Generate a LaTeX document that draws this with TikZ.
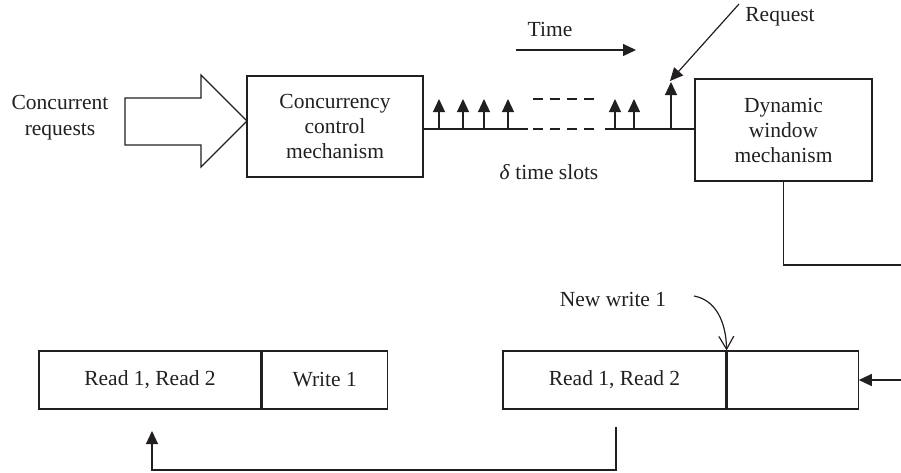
\documentclass[tikz,border=0pt]{standalone}
\usepackage{fontspec}
\setmainfont{Liberation Serif}
\usetikzlibrary{arrows.meta,calc}
\definecolor{ink}{HTML}{231F20}
\tikzset{
  base/.style={line width=1.2pt, draw=ink},
  box/.style={base, rectangle, inner sep=0pt, align=center, text=ink,
              font=\fontsize{21.5}{25}\selectfont},
  lbl/.style={text=ink, align=center, inner sep=0pt,
              font=\fontsize{21.5}{26}\selectfont},
  tip/.style={base, -{Triangle[length=13pt,width=12pt]}},
  opentip/.style={base, -{Straight Barb[length=13pt,width=15pt]}},
  dashline/.style={base, dash pattern=on 10pt off 7pt},
}
\begin{document}
\begin{tikzpicture}[x=1pt,y=-1pt]
  \useasboundingbox (0,0) rectangle (901,472);

  % upper row: input, concurrency control, dynamic window
  \node[lbl] (creq) at (60,118) {Concurrent\\requests};
  \node[box, minimum width=176pt, minimum height=101pt] (ccm) at (335,126.5)
       {Concurrency\\control\\mechanism};
  \node[box, minimum width=177pt, minimum height=102pt] (dwm) at (783.5,130)
       {Dynamic\\window\\mechanism};

  % block arrow feeding the concurrency control box
  \draw[base, line join=miter]
    (125,98) -- (201,98) -- (201,75) -- (247,121) -- (201,167)
    -- (201,145) -- (125,145) -- cycle;

  % time axis with slot boundaries
  \coordinate (tl1) at (528,129);
  \coordinate (tl2) at (605,129);
  \draw[base] (ccm.east |- tl1) -- (tl1);
  \draw[base] (tl2) -- (dwm.west |- tl2);
  \draw[dashline] (533,129) -- (597,129);
  \draw[dashline] (533,99) -- (597,99);
  \foreach \x in {439,463,484,508,615,634}{
    \coordinate (s\x) at (\x,129);
    \coordinate (t\x) at (\x,99);
    \draw[tip] (s\x) -- (t\x);
  }
  \coordinate (rq0) at (671,129);
  \coordinate (rq1) at (671,82);
  \draw[tip] (rq0) -- (rq1);

  % incoming request
  \node[lbl] (req) at (780,17) {Request};
  \coordinate (rqs) at (739,4);
  \coordinate (rqe) at (670,81);
  \draw[tip] (rqs) -- (rqe);

  % time direction
  \node[lbl] (time) at (550,29) {Time};
  \coordinate (ta) at (516,50);
  \coordinate (tb) at (636,50);
  \draw[tip] (ta) -- (tb);

  \node[lbl] (slots) at (549,172) {\textit{δ} time slots};

  % lower row: buffers
  \node[box, minimum width=222pt, minimum height=58pt] (r1) at (150,380) {Read 1, Read 2};
  \node[box, minimum width=125pt, minimum height=58pt, anchor=west] (w1) at (r1.east) {Write 1};
  \node[box, minimum width=223pt, minimum height=58pt] (r2) at (614.5,380) {Read 1, Read 2};
  \node[box, minimum width=131pt, minimum height=58pt, anchor=west] (e2) at (r2.east) {};

  % dynamic window output into the right buffer
  \coordinate (ed1) at (901,265);
  \draw[base] (dwm.south) -- (dwm.south |- ed1) -- (ed1);
  \coordinate (ed2) at (901,380);
  \draw[tip] (ed2) -- (e2.east);

  % new write slot
  \node[lbl] (nw) at (613,299) {New write 1};
  \coordinate (nws) at (694,296);
  \draw[opentip] (nws) .. controls (716,300) and (726,322) .. (r2.north east);

  % feedback from the right buffer to the left one
  \coordinate (fb0) at (616,427);
  \coordinate (fb1) at (616,470);
  \coordinate (fb2) at (152,470);
  \coordinate (fb3) at (152,431);
  \draw[tip] (fb0) -- (fb1) -- (fb2) -- (fb3);
\end{tikzpicture}
\end{document}
